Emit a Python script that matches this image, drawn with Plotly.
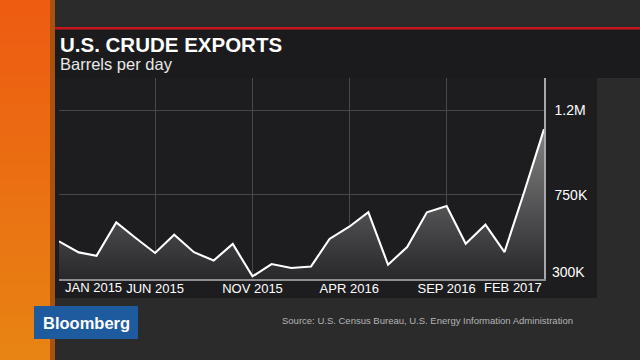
import plotly.graph_objects as go

# ---------------- data ----------------
months = [
    "2015-01-01", "2015-02-01", "2015-03-01", "2015-04-01", "2015-05-01", "2015-06-01",
    "2015-07-01", "2015-08-01", "2015-09-01", "2015-10-01", "2015-11-01", "2015-12-01",
    "2016-01-01", "2016-02-01", "2016-03-01", "2016-04-01", "2016-05-01", "2016-06-01",
    "2016-07-01", "2016-08-01", "2016-09-01", "2016-10-01", "2016-11-01", "2016-12-01",
    "2017-01-01", "2017-02-01",
]
exports_bpd = [
    501000, 442000, 424000, 602000, 520000, 439000,
    536000, 443000, 399000, 487000, 314000, 380000,
    359000, 367000, 514000, 579000, 657000, 376000,
    471000, 656000, 690000, 488000, 590000, 444000,
    766000, 1100000,
]
x_tickvals = ["2015-06-01", "2015-11-01", "2016-04-01", "2016-09-01"]
x_ticktext = ["JUN 2015", "NOV 2015", "APR 2016", "SEP 2016"]
x_first_label = ("2015-01-01", "JAN 2015")
x_last_label = ("2017-02-01", "FEB 2017")
y_tickvals = [750000, 1200000]
y_ticktext = ["750K", "1.2M"]
y_bottom_label = (300000, "300K")
title = "U.S. CRUDE EXPORTS"
subtitle = "Barrels per day"
source = "Source: U.S. Census Bureau, U.S. Energy Information Administration"

# ---------------- layout geometry (pixels) ----------------
W, H = 640, 360
ML, MR, MT, MB = 59, 96, 78, 81
PW, PH = W - ML - MR, H - MT - MB


def px(X):
    return (X - ML) / PW


def py(Y):
    return (H - MB - Y) / PH


FONT = "Liberation Sans, Arial, sans-serif"

fig = go.Figure()
fig.add_trace(go.Scatter(
    x=months, y=exports_bpd, mode="lines",
    line=dict(color="#ffffff", width=2.1),
    fill="tozeroy",
    fillgradient=dict(type="vertical",
                      colorscale=[[0, "rgb(40,40,43)"], [1, "rgb(130,130,130)"]],
                      start=300000, stop=1100000),
    hoverinfo="skip", showlegend=False,
))

shapes = []
# orange strip with vertical gradient
orange_top = (238, 92, 18)
orange_bot = (232, 132, 20)
n = 24
for i in range(n):
    t = i / (n - 1)
    c = tuple(int(orange_top[k] + (orange_bot[k] - orange_top[k]) * t) for k in range(3))
    shapes.append(dict(type="rect", xref="paper", yref="paper",
                       x0=px(0), x1=px(50), y0=py(i * H / n), y1=py((i + 1) * H / n + 1),
                       fillcolor="rgb(%d,%d,%d)" % c, line=dict(width=0), layer="below"))
shapes.append(dict(type="rect", xref="paper", yref="paper", x0=px(50), x1=px(55),
                   y0=py(0), y1=py(H), fillcolor="#a9520f", line=dict(width=0), layer="below"))
# title panel + red rule
shapes.append(dict(type="rect", xref="paper", yref="paper", x0=px(55), x1=px(W),
                   y0=py(29.5), y1=py(78), fillcolor="#1b1b1d", line=dict(width=0), layer="below"))
shapes.append(dict(type="rect", xref="paper", yref="paper", x0=px(55), x1=px(W),
                   y0=py(27), y1=py(29.5), fillcolor="#c2161c", line=dict(width=0), layer="below"))
# chart panel
shapes.append(dict(type="rect", xref="paper", yref="paper", x0=px(55), x1=px(597),
                   y0=py(78), y1=py(298), fillcolor="#1d1d20", line=dict(width=0), layer="below"))
# Bloomberg logo box
shapes.append(dict(type="rect", xref="paper", yref="paper", x0=px(34), x1=px(138),
                   y0=py(306), y1=py(339), fillcolor="#1d5a9e", line=dict(width=0), layer="above"))

annotations = [
    dict(text="<b>%s</b>" % title, x=px(58), y=py(44), xref="paper", yref="paper",
         xanchor="left", yanchor="middle", showarrow=False,
         font=dict(family=FONT, size=20.5, color="#ffffff")),
    dict(text=subtitle, x=px(58), y=py(64), xref="paper", yref="paper",
         xanchor="left", yanchor="middle", showarrow=False,
         font=dict(family=FONT, size=16.5, color="#e8e8e8")),
    dict(text="<b>Bloomberg</b>", x=px(86), y=py(322.5), xref="paper", yref="paper",
         xanchor="center", yanchor="middle", showarrow=False,
         font=dict(family=FONT, size=16.5, color="#ffffff")),
    dict(text=source, x=px(575), y=py(320), xref="paper", yref="paper",
         xanchor="right", yanchor="middle", showarrow=False,
         font=dict(family=FONT, size=9.5, color="#b4b4b4")),
    dict(text=x_first_label[1], x=x_first_label[0], y=0, xref="x", yref="paper",
         xanchor="left", yanchor="top", xshift=4, yshift=1, showarrow=False,
         font=dict(family=FONT, size=13, color="#ffffff")),
    dict(text=x_last_label[1], x=x_last_label[0], y=0, xref="x", yref="paper",
         xanchor="right", yanchor="top", xshift=0, yshift=1, showarrow=False,
         font=dict(family=FONT, size=13, color="#ffffff")),
    dict(text=y_bottom_label[1], x=1, y=y_bottom_label[0], xref="paper", yref="y",
         xanchor="left", yanchor="bottom", xshift=6, yshift=-3, showarrow=False,
         font=dict(family=FONT, size=14, color="#ffffff")),
]

fig.update_layout(
    width=W, height=H,
    margin=dict(l=ML, r=MR, t=MT, b=MB),
    paper_bgcolor="#2b2b2c",
    plot_bgcolor="rgba(0,0,0,0)",
    shapes=shapes,
    annotations=annotations,
    showlegend=False,
    hovermode=False,
    xaxis=dict(
        type="date", range=[months[0], months[-1]],
        tickvals=x_tickvals, ticktext=x_ticktext,
        showgrid=True, gridcolor="#48484c", gridwidth=1,
        showline=True, linecolor="#8e8e90", linewidth=1.5,
        ticks="", zeroline=False, ticklabelstandoff=-3,
        tickfont=dict(family=FONT, size=13, color="#ffffff"),
        fixedrange=True,
    ),
    yaxis=dict(
        range=[300000, 1373000], side="right",
        tickvals=y_tickvals, ticktext=y_ticktext,
        showgrid=True, gridcolor="#48484c", gridwidth=1,
        showline=True, linecolor="#a8a8aa", linewidth=1.5,
        ticks="", zeroline=False, ticklabelstandoff=6,
        tickfont=dict(family=FONT, size=14, color="#ffffff"),
        fixedrange=True,
    ),
)

fig.write_html("out.html", config={"displayModeBar": False},
               post_script="document.body.style.margin='0';document.body.style.overflow='hidden';")
